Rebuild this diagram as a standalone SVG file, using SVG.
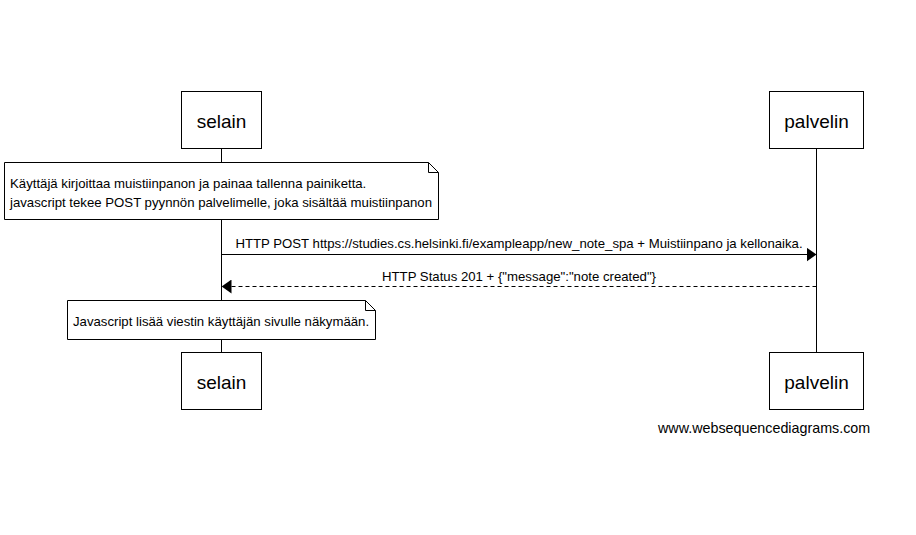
<svg xmlns="http://www.w3.org/2000/svg" width="916" height="535" viewBox="0 0 916 535">
<style>
text{font-family:"Liberation Sans",Arial,sans-serif;fill:#000}
.box{fill:#fff;stroke:#000;stroke-width:1}
.life{stroke:#000;stroke-width:1}
.p{font-size:19px;text-anchor:middle}
.n{font-size:13.2px}
.m{font-size:13.2px;text-anchor:middle}
</style>
<defs>
<marker id="ah" viewBox="0 0 10 14" refX="10" refY="7" markerWidth="10" markerHeight="14" markerUnits="userSpaceOnUse" orient="auto">
<path d="M0,0 L10,7 L0,14 Z" fill="#000"/>
</marker>
</defs>
<rect width="916" height="535" fill="#fff"/>
<g id="lifelines">
<line class="life" x1="221.5" y1="148" x2="221.5" y2="352"/>
<line class="life" x1="816.5" y1="148" x2="816.5" y2="352"/>
</g>
<g id="selain_top"><rect class="box" x="181.5" y="91.5" width="80" height="57"/><text class="p" x="221.5" y="128">selain</text></g>
<g id="palvelin_top"><rect class="box" x="769.5" y="91.5" width="94" height="57"/><text class="p" x="816.5" y="128">palvelin</text></g>
<g id="selain_bottom"><rect class="box" x="181.5" y="352.5" width="80" height="57"/><text class="p" x="221.5" y="389">selain</text></g>
<g id="palvelin_bottom"><rect class="box" x="769.5" y="352.5" width="94" height="57"/><text class="p" x="816.5" y="389">palvelin</text></g>
<g id="note1">
<path class="box" d="M4.5,162.5 H428.5 L438.5,172.5 V219.5 H4.5 Z"/>
<path d="M428.5,162.5 V172.5 H438.5" fill="none" stroke="#000"/>
<text class="n" x="10" y="188">Käyttäjä kirjoittaa muistiinpanon ja painaa tallenna painiketta.</text>
<text class="n" x="10" y="207">javascript tekee POST pyynnön palvelimelle, joka sisältää muistiinpanon</text>
</g>
<g id="note2">
<path class="box" d="M67.5,300.5 H365.5 L375.5,310.5 V339.5 H67.5 Z"/>
<path d="M365.5,300.5 V310.5 H375.5" fill="none" stroke="#000"/>
<text class="n" x="73" y="326">Javascript lisää viestin käyttäjän sivulle näkymään.</text>
</g>
<g id="connectors">
<line x1="221.5" y1="254.5" x2="816.5" y2="254.5" stroke="#000" marker-end="url(#ah)"/>
<text class="m" x="519" y="248">HTTP POST https://studies.cs.helsinki.fi/exampleapp/new_note_spa + Muistiinpano ja kellonaika.</text>
<line x1="816.5" y1="286.5" x2="221.5" y2="286.5" stroke="#000" stroke-dasharray="4,3" marker-end="url(#ah)"/>
<text class="m" x="519" y="281">HTTP Status 201 + {"message":"note created"}</text>
</g>
<text x="658" y="433" style="font-size:14.3px">www.websequencediagrams.com</text>
</svg>
